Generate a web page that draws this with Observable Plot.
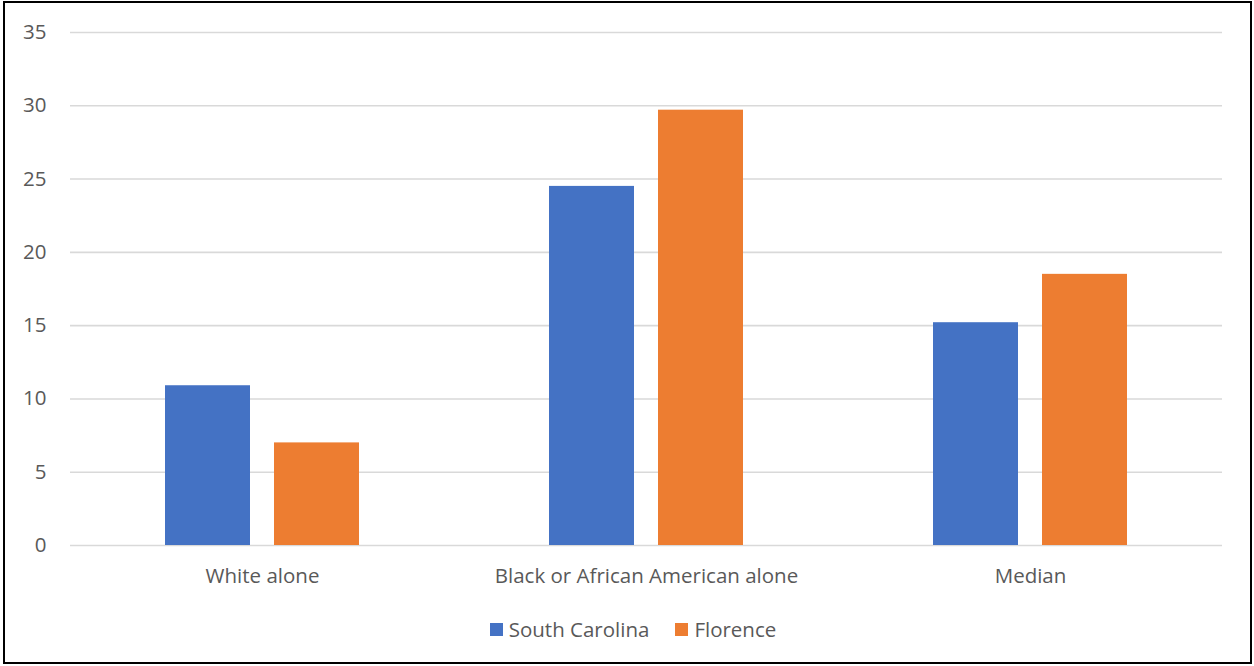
<!DOCTYPE html>
<html>
<head>
<meta charset="utf-8">
<script src="https://cdn.jsdelivr.net/npm/d3@7"></script>
<script src="https://cdn.jsdelivr.net/npm/@observablehq/plot@0.6"></script>
<style>
  html, body { margin: 0; padding: 0; background: #fff; }
  body { width: 1254px; height: 666px; position: relative; overflow: hidden; font-family: "Open Sans", sans-serif; }
  #frame { position: absolute; left: 3px; top: 1px; width: 1245px; height: 659px; border: 2px solid #000; box-sizing: content-box; }
  #chart { position: absolute; left: 0; top: 0; }
  #legend { position: absolute; left: 0; top: 615px; width: 1254px; display: flex; justify-content: center; gap: 26px; font-size: 20.5px; color: #595959; padding-left: 12px; box-sizing: border-box; }
  .item { display: flex; align-items: center; gap: 6px; }
  .sw { width: 13px; height: 13px; display: inline-block; }
</style>
</head>
<body>
<div id="frame"></div>
<div id="chart"></div>
<div id="legend"></div>
<script>
const categories = ["White alone", "Black or African American alone", "Median"];
const series = ["South Carolina", "Florence"];
const southCarolina = [10.9, 24.5, 15.2];
const florence = [7.0, 29.7, 18.5];
const colors = ["#4472C4", "#ED7D31"];
const yTicks = [0, 5, 10, 15, 20, 25, 30, 35];

const rows = [];
categories.forEach((c, i) => {
  rows.push({category: c, series: series[0], value: southCarolina[i]});
  rows.push({category: c, series: series[1], value: florence[i]});
});

const chart = Plot.plot({
  width: 1254,
  height: 600,
  marginLeft: 69,
  marginRight: 31,
  marginTop: 32,
  marginBottom: 55,
  style: {fontFamily: "'Open Sans', sans-serif", fontSize: "20.5px", color: "#595959", background: "transparent"},
  fx: {domain: categories, padding: 0, label: null, axis: null},
  x: {domain: series, paddingInner: 0.218, paddingOuter: 0.857, axis: null},
  y: {domain: [0, 35], ticks: yTicks, label: null},
  color: {domain: series, range: colors},
  marks: [
    Plot.gridY(yTicks, {stroke: "#d9d9d9", strokeOpacity: 1, strokeWidth: 1.6}),
    Plot.axisY(yTicks, {tickSize: 0, tickPadding: 24, fontSize: 20.5, fill: "#595959", label: null}),
    Plot.axisFx({anchor: "bottom", tickSize: 0, tickPadding: 23, fontSize: 20.5, fill: "#595959", label: null}),
    Plot.barY(rows, {fx: "category", x: "series", y: "value", fill: "series"})
  ]
});
document.getElementById("chart").appendChild(chart);

const legend = document.getElementById("legend");
series.forEach((s, i) => {
  const item = document.createElement("div");
  item.className = "item";
  const sw = document.createElement("span");
  sw.className = "sw";
  sw.style.background = colors[i];
  const t = document.createElement("span");
  t.textContent = s;
  item.appendChild(sw);
  item.appendChild(t);
  legend.appendChild(item);
});
</script>
</body>
</html>
